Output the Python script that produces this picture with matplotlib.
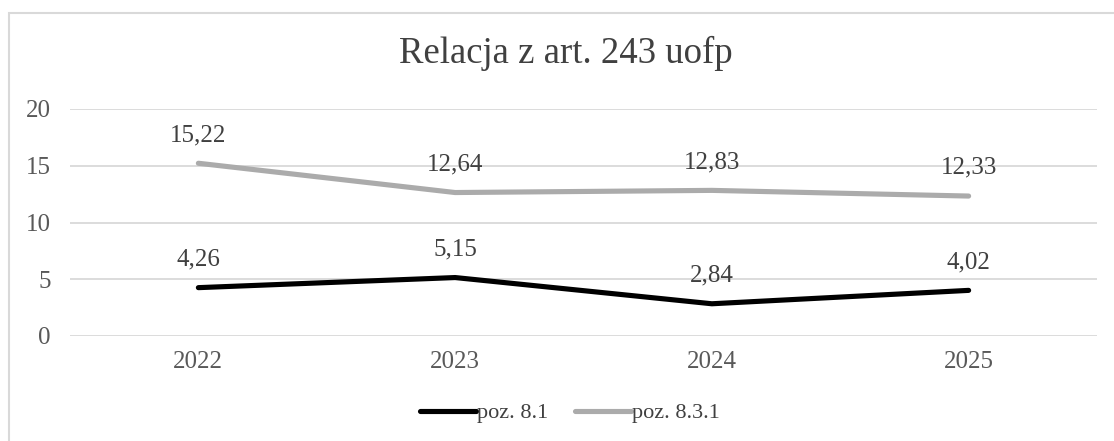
import matplotlib.pyplot as plt
from matplotlib.patches import Rectangle

years = ["2022", "2023", "2024", "2025"]
poz_81 = [4.26, 5.15, 2.84, 4.02]
poz_831 = [15.22, 12.64, 12.83, 12.33]

plt.rcParams["font.family"] = ["Liberation Serif", "DejaVu Serif"]

fig = plt.figure(figsize=(11.14, 4.41), dpi=100)
ax = fig.add_axes([70 / 1114, 1 - 336 / 441, (1097 - 70) / 1114, (336 - 109) / 441])

x = [i + 0.5 for i in range(len(years))]
ax.plot(x, poz_81, color="black", lw=3.7, solid_capstyle="round", label="poz. 8.1", zorder=3)
ax.plot(x, poz_831, color="#ababab", lw=3.7, solid_capstyle="round", label="poz. 8.3.1", zorder=3)

for series in (poz_81, poz_831):
    for xi, v in zip(x, series):
        ax.annotate(f"{v:.2f}".replace(".", ","), (xi, v), xytext=(0, 16), textcoords="offset points",
                    ha="center", va="baseline", fontsize=18, color="#404040")

ax.set_xlim(0, 4)
ax.set_ylim(0, 20)
ax.set_yticks([0, 5, 10, 15, 20])
ax.set_xticks(x)
ax.set_xticklabels(years)
ax.grid(axis="y", color="#d9d9d9", lw=1.3)
ax.set_axisbelow(True)
for s in ax.spines.values():
    s.set_visible(False)
ax.tick_params(length=0, labelsize=18, colors="#595959")
ax.tick_params(axis="y", pad=14)
ax.tick_params(axis="x", pad=11)

fig.text(566 / 1114, 1 - 63 / 441, "Relacja z art. 243 uofp", ha="center", va="baseline",
         fontsize=26.5, color="#404040")

fig.legend(loc="center", bbox_to_anchor=(570 / 1114, 1 - 413 / 441), ncol=2, frameon=False,
           fontsize=16, handlelength=2.5, handletextpad=0.05, columnspacing=1.2, labelcolor="#404040")

# chart frame (right and bottom edges run off the image)
fig.patches.append(Rectangle((8.5 / 1114, -0.05), 1.1, 1 - 12.5 / 441 + 0.05,
                             transform=fig.transFigure, fill=False, edgecolor="#d9d9d9", lw=1.5))

fig.savefig("out.png", dpi=100)
